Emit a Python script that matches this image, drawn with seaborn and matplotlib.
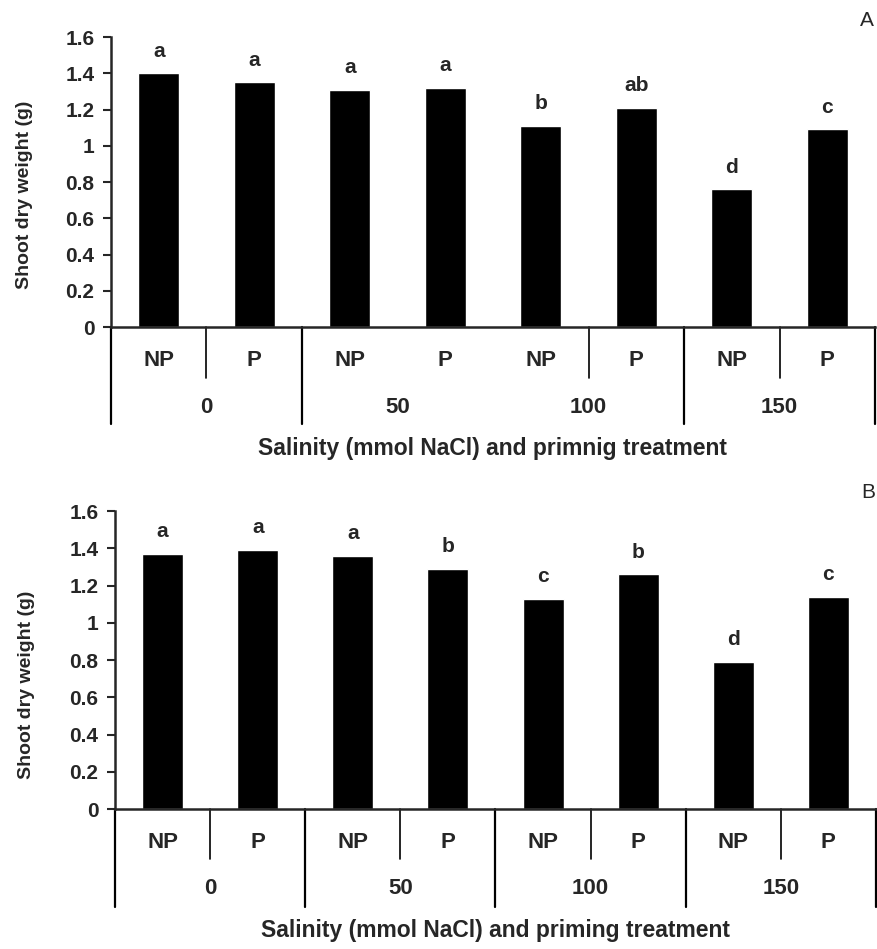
import numpy as np
import seaborn as sns
import matplotlib.pyplot as plt
import matplotlib.transforms as mtransforms

# data
treatment = ["NP", "P", "NP", "P", "NP", "P", "NP", "P"]
salinity = ["0", "50", "100", "150"]
weight_a = [1.40, 1.35, 1.31, 1.32, 1.11, 1.21, 0.76, 1.09]
letters_a = ["a", "a", "a", "a", "b", "ab", "d", "c"]
weight_b = [1.37, 1.39, 1.36, 1.29, 1.13, 1.26, 0.79, 1.14]
letters_b = ["a", "a", "a", "b", "c", "b", "d", "c"]

sns.set_style("ticks")
plt.rcParams['font.family'] = ['Liberation Sans', 'DejaVu Sans']
plt.rcParams['font.weight'] = 'bold'

fig = plt.figure(figsize=(8.78, 9.49), dpi=100)
ax_a = fig.add_axes([0.1264, 0.6554, 0.8702, 0.3056])
ax_b = fig.add_axes([0.1310, 0.1475, 0.8667, 0.3140])

# x positions of vertical separators under the axis: (x, depth in axes fraction)
sep_a = [(-0.5, 0.334), (0.5, 0.176), (1.5, 0.334), (4.5, 0.176),
         (5.5, 0.334), (6.5, 0.176), (7.5, 0.334)]
sep_b = [(-0.5, 0.329), (0.5, 0.168), (1.5, 0.329), (2.5, 0.168), (3.5, 0.329),
         (4.5, 0.168), (5.5, 0.329), (6.5, 0.168), (7.5, 0.329)]


def draw_panel(ax, weights, letters, seps, xlabel, lab_y, grp_y, xl_y, ylab_pos):
    cats = [f"{s}-{t}" for s in salinity for t in ["NP", "P"]]
    sns.barplot(x=cats, y=weights, order=cats, color="black", saturation=1,
                width=0.43, ax=ax)
    ax.set_xlim(-0.5, 7.5)
    ax.set_ylim(0, 1.6)
    ax.set_yticks(np.arange(0, 1.61, 0.2))
    ax.set_yticklabels(["0", "0.2", "0.4", "0.6", "0.8", "1", "1.2", "1.4", "1.6"])
    ax.tick_params(axis='y', labelsize=15, width=1.5, length=6, direction='out', pad=6)
    ax.tick_params(axis='x', length=0, labelbottom=False)
    for lab in ax.get_yticklabels():
        lab.set_fontweight('bold')
    sns.despine(ax=ax, top=True, right=True)
    ax.spines['left'].set_linewidth(1.8)
    ax.spines['bottom'].set_linewidth(1.8)

    ax.set_ylabel("Shoot dry weight (g)", fontsize=14, fontweight='bold')
    ax.yaxis.set_label_coords(*ylab_pos)

    trans = mtransforms.blended_transform_factory(ax.transData, ax.transAxes)
    for x, depth in seps:
        lw = 1.6 if depth > 0.25 else 1.2
        ax.plot([x, x], [0, -depth], color='black', lw=lw, transform=trans, clip_on=False)

    for i, t in enumerate(treatment):
        ax.text(i, lab_y, t, transform=trans, ha='center', va='center',
                fontsize=16, fontweight='bold')
    for j, s in enumerate(salinity):
        ax.text(2 * j + 0.5, grp_y, s, transform=trans, ha='center', va='center',
                fontsize=16, fontweight='bold')
    ax.text(3.5, xl_y, xlabel, transform=trans, ha='center', va='center',
            fontsize=16.5, fontweight='bold')

    for i, (w, l) in enumerate(zip(weights, letters)):
        ax.annotate(l, (i, w), xytext=(0, 16), textcoords='offset points',
                    ha='center', va='center', fontsize=15, fontweight='bold')


draw_panel(ax_a, weight_a, letters_a, sep_a,
           "Salinity (mmol NaCl) and primnig treatment",
           -0.114, -0.276, -0.42, (-0.102, 0.457))
draw_panel(ax_b, weight_b, letters_b, sep_b,
           "Salinity (mmol NaCl) and priming treatment",
           -0.111, -0.268, -0.409, (-0.105, 0.416))

fig.text(867 / 878, 1 - 20 / 949, "A", ha='center', va='center', fontsize=15, fontweight='normal')
fig.text(868 / 878, 1 - 493 / 949, "B", ha='center', va='center', fontsize=15, fontweight='normal')

fig.savefig("out.png", dpi=100, facecolor='white')
